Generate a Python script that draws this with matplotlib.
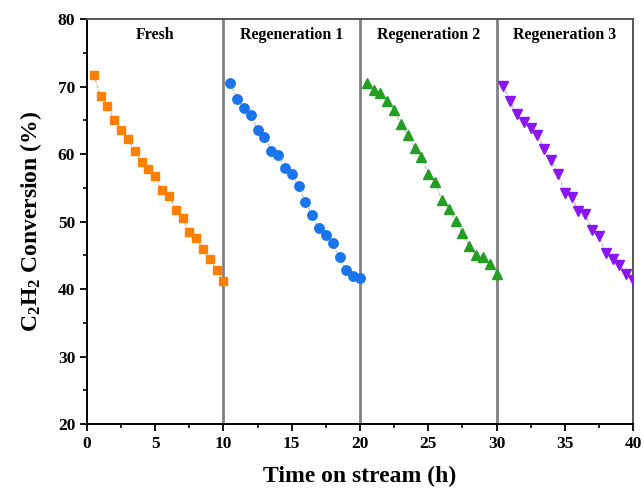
import numpy as np
import matplotlib
matplotlib.use('Agg')
import matplotlib.pyplot as plt
from matplotlib.ticker import MultipleLocator

plt.rcParams['font.family'] = ['Liberation Serif', 'DejaVu Serif']
plt.rcParams['font.weight'] = 'bold'
plt.rcParams['mathtext.fontset'] = 'custom'
plt.rcParams['mathtext.rm'] = 'Liberation Serif:bold'
plt.rcParams['mathtext.bf'] = 'Liberation Serif:bold'
plt.rcParams['mathtext.it'] = 'Liberation Serif:bold'

# Conversion vs. time for fresh and regenerated catalyst
t_fresh = np.arange(0.5, 10.01, 0.5)
conv_fresh = [71.7, 68.6, 67.1, 65.1, 63.6, 62.3, 60.4, 58.8, 57.8, 56.8,
              54.7, 53.8, 51.7, 50.6, 48.4, 47.5, 45.9, 44.4, 42.8, 41.2]

t_reg1 = np.arange(10.5, 20.01, 0.5)
conv_reg1 = [70.5, 68.2, 66.8, 65.8, 63.6, 62.6, 60.5, 59.8, 58.0, 57.0,
             55.2, 52.9, 50.9, 49.0, 48.0, 46.8, 44.7, 42.8, 42.0, 41.6]

t_reg2 = np.arange(20.5, 30.01, 0.5)
conv_reg2 = [70.6, 69.5, 69.0, 67.9, 66.5, 64.4, 62.8, 60.9, 59.5, 57.1,
             55.9, 53.2, 51.8, 50.1, 48.3, 46.4, 45.0, 44.8, 43.7, 42.3]

t_reg3 = np.arange(30.5, 40.01, 0.5)
conv_reg3 = [70.1, 67.9, 65.9, 64.8, 63.8, 62.9, 60.7, 59.1, 57.1, 54.3,
             53.7, 51.6, 51.1, 48.7, 47.8, 45.4, 44.4, 43.6, 42.3, 41.3]

labels = ['Fresh', 'Regeneration 1', 'Regeneration 2', 'Regeneration 3']
label_x = [5, 15, 25, 35]

fig = plt.figure(figsize=(6.44, 4.91), dpi=100)
ax = fig.add_axes([0.135, 0.1365, 0.848, 0.8245])

series = [
    (t_fresh, conv_fresh, 's', '#FF8000', 6.3),
    (t_reg1, conv_reg1, 'o', '#1A74EC', 6.8),
    (t_reg2, conv_reg2, '^', '#229E22', 7.3),
    (t_reg3, conv_reg3, 'v', '#8A14F2', 7.3),
]
for t, c, m, col, ms in series:
    ax.plot(t, c, ls='--', lw=0.7, color='#b0b0b0', zorder=2)
    ax.plot(t, c, ls='none', marker=m, ms=ms, color=col, mec=col, zorder=3)

# section dividers
for xv in [10, 20, 30]:
    ax.axvline(xv, color='#808080', lw=2, zorder=1)

for lx, lab in zip(label_x, labels):
    ax.text(lx, 77.6, lab, ha='center', va='center', fontsize=11.5,
            fontweight='bold')

ax.set_xlim(0, 40)
ax.set_ylim(20, 80)
ax.xaxis.set_major_locator(MultipleLocator(5))
ax.xaxis.set_minor_locator(MultipleLocator(2.5))
ax.yaxis.set_major_locator(MultipleLocator(10))
ax.yaxis.set_minor_locator(MultipleLocator(5))
ax.tick_params(which='major', direction='out', length=5, width=1.3,
               labelsize=12.5, top=False, right=False)
ax.tick_params(which='minor', direction='out', length=3, width=1.2,
               top=False, right=False)
for s in ax.spines.values():
    s.set_linewidth(1.4)
ax.spines['top'].set_color('#555555')
ax.spines['right'].set_color('#555555')

ax.set_xlabel('Time on stream (h)', fontsize=17, fontweight='bold', labelpad=10)
ax.set_ylabel(r'C$_2$H$_2$ Conversion (%)', fontsize=17, fontweight='bold',
              labelpad=10)

fig.savefig('out.png', dpi=100)
